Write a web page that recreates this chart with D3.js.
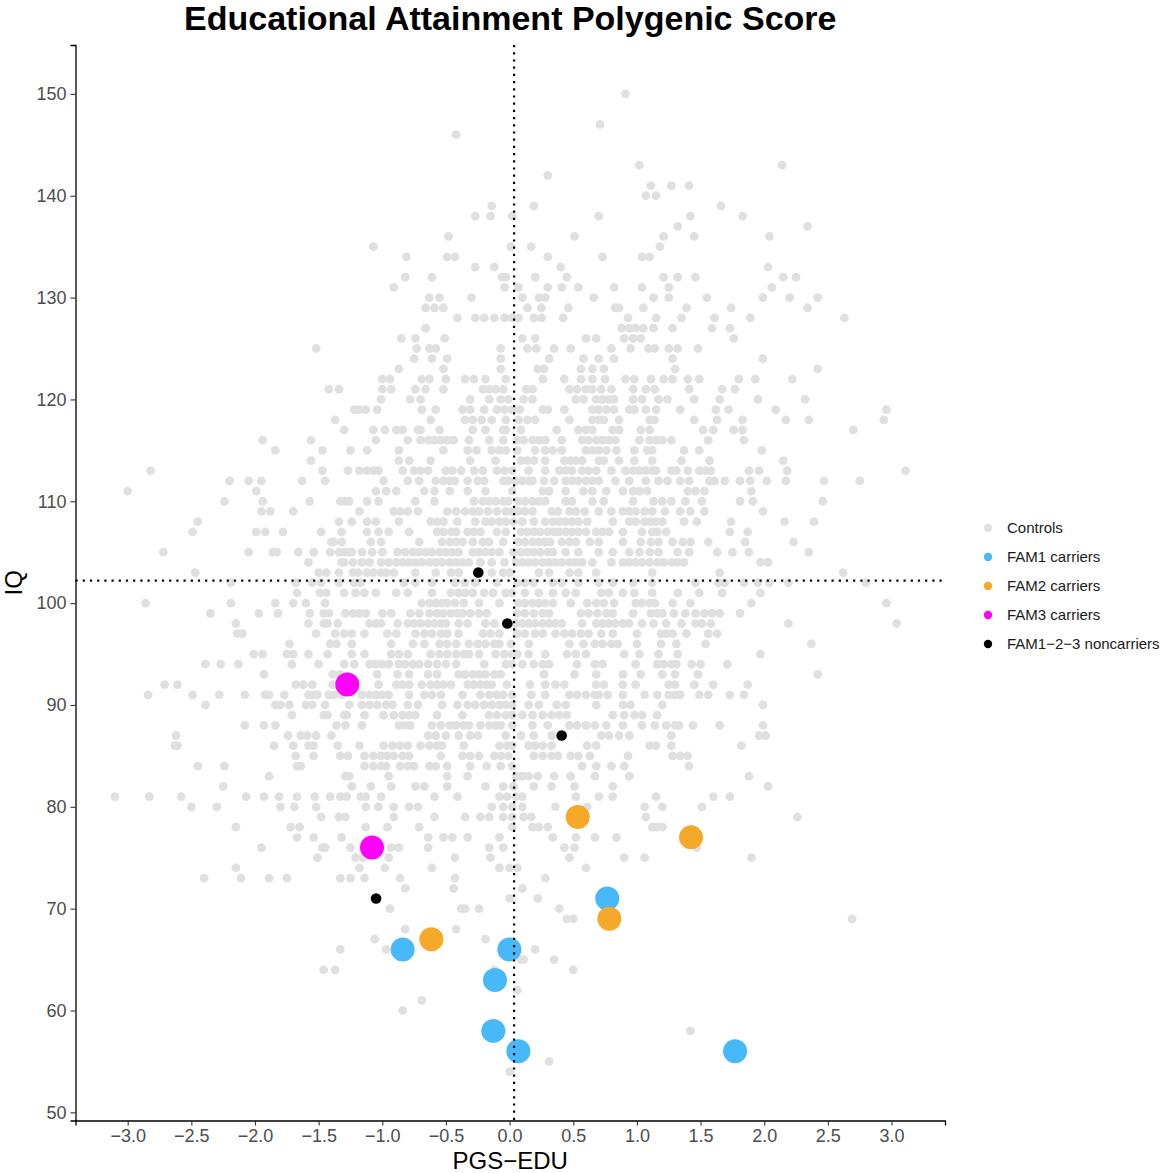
<!DOCTYPE html>
<html>
<head>
<meta charset="utf-8">
<script src="https://cdn.jsdelivr.net/npm/d3@7"></script>
<style>
  body { margin: 0; background: #ffffff; }
  svg text { font-family: "Liberation Sans", Arial, sans-serif; }
</style>
</head>
<body>
<svg id="chart" width="1161" height="1173"></svg>
<script>
// ---- Data ----------------------------------------------------------------
const chartTitle = "Educational Attainment Polygenic Score";
const xTitle = "PGS−EDU";
const yTitle = "IQ";
const xTicks = [-3.0, -2.5, -2.0, -1.5, -1.0, -0.5, 0.0, 0.5, 1.0, 1.5, 2.0, 2.5, 3.0];
const yTicks = [50, 60, 70, 80, 90, 100, 110, 120, 130, 140, 150];

const legendLabels = ["Controls", "FAM1 carriers", "FAM2 carriers", "FAM3 carriers", "FAM1−2−3 noncarriers"];
const legendColors = ["#e0e0e0", "#47b9f9", "#f6a928", "#ff00ff", "#000000"];

// reference lines: mean PGS and mean IQ of the controls
const meanPGS = 0.035;
const meanIQ = 102.2;

// family members
const fam1PGS = [0.767, -0.840, -0.002, -0.115, -0.128, 0.069, 1.771];
const fam1IQ  = [71, 66, 66, 63, 58, 56, 56];
const fam2PGS = [0.535, 1.425, 0.783, -0.615];
const fam2IQ  = [79, 77, 69, 67];
const fam3PGS = [-1.275, -1.081];
const fam3IQ  = [92, 76];
const nonPGS  = [-0.246, -0.018, 0.409, -1.049];
const nonIQ   = [103, 98, 87, 71];

// controls: one entry per IQ score, with the PGS of each control at that score
const controlRows = [
  [150, [0.91]],
  [147, [0.71]],
  [146, [-0.42]],
  [143, [1.02, 2.14]],
  [142, [0.30]],
  [141, [1.11, 1.27, 1.41]],
  [140, [1.07, 1.15]],
  [139, [-0.14, 0.19, 1.66]],
  [138, [-0.27, -0.15, 0.02, 0.70, 1.42, 1.83]],
  [137, [1.32, 2.34]],
  [136, [-0.48, 0.51, 1.21, 1.45, 2.04]],
  [135, [-1.07, 0.01, 0.17, 1.18]],
  [134, [-0.81, -0.49, -0.43, 0.30, 0.73, 1.04, 1.10]],
  [133, [-0.27, -0.12, 0.40, 2.03]],
  [132, [-0.82, -0.61, -0.06, -0.03, 0.20, 0.45, 1.21, 1.32, 1.46, 2.15, 2.25]],
  [131, [-0.91, -0.04, 0.07, 0.30, 0.41, 0.54, 0.82, 1.04, 1.25, 2.06]],
  [130, [-0.63, -0.55, -0.30, 0.10, 0.23, 0.28, 0.66, 1.13, 1.25, 1.55, 1.99, 2.20, 2.42]],
  [129, [-0.66, -0.59, -0.52, 0.14, 0.25, 0.46, 0.83, 0.86, 1.05, 1.39, 1.74, 2.34]],
  [128, [-0.41, -0.27, -0.20, -0.12, -0.04, 0.02, 0.07, 0.19, 0.25, 0.42, 0.93, 1.15, 1.35, 1.61, 1.89, 2.63]],
  [127, [-0.66, 0.88, 0.94, 0.99, 1.05, 1.13, 1.28, 1.59, 1.73]],
  [126, [-0.85, -0.74, -0.51, 0.10, 0.20, 0.60, 0.68, 0.90, 0.97, 1.03, 1.76]],
  [125, [-1.52, -0.73, -0.63, -0.58, -0.07, 0.14, 0.21, 0.35, 0.48, 0.80, 0.95, 1.09, 1.14, 1.25, 1.32, 1.48]],
  [124, [-0.75, -0.61, -0.49, -0.07, 0.31, 0.58, 0.70, 0.82, 1.28, 1.99]],
  [123, [-0.87, -0.52, -0.07, 0.22, 0.27, 0.56, 0.65, 0.74, 1.30, 2.42]],
  [122, [-1.00, -0.94, -0.69, -0.63, -0.50, -0.35, -0.28, -0.19, -0.03, 0.26, 0.43, 0.56, 0.65, 0.75, 0.91, 0.98, 1.11, 1.21, 1.28, 1.40, 1.49, 1.80, 1.93, 2.22]],
  [121, [-1.42, -1.34, -1.00, -0.93, -0.74, -0.66, -0.52, -0.21, -0.16, -0.11, -0.05, 0.13, 0.18, 0.47, 0.53, 0.60, 0.65, 0.72, 0.80, 0.97, 1.07, 1.14, 1.41, 1.67, 1.77]],
  [120, [-1.01, -0.78, -0.70, -0.31, -0.16, -0.07, -0.01, 0.11, 0.18, 0.52, 0.58, 0.68, 0.73, 0.78, 0.82, 0.97, 1.04, 1.17, 1.24, 1.45, 1.65, 1.95, 2.32]],
  [119, [-1.22, -1.18, -1.13, -1.04, -0.69, -0.58, -0.37, -0.31, -0.20, -0.10, -0.04, 0.02, 0.08, 0.26, 0.30, 0.43, 0.65, 0.70, 0.76, 0.82, 0.94, 0.98, 1.07, 1.15, 1.34, 1.62, 1.72, 2.09, 2.96]],
  [118, [-1.37, -0.62, -0.35, -0.29, -0.22, -0.14, -0.03, 0.07, 0.14, 0.20, 0.47, 0.65, 0.70, 0.74, 0.86, 1.10, 1.14, 1.45, 1.63, 1.83, 2.17, 2.35, 2.94]],
  [117, [-1.30, -1.07, -0.98, -0.89, -0.84, -0.72, -0.70, -0.55, -0.29, -0.19, -0.05, -0.03, 0.09, 0.37, 0.54, 0.60, 0.65, 0.81, 0.86, 1.03, 1.10, 1.52, 1.60, 1.76, 1.83, 2.70]],
  [116, [-1.94, -1.56, -1.05, -0.80, -0.70, -0.64, -0.59, -0.54, -0.49, -0.44, -0.32, -0.16, -0.05, 0.06, 0.11, 0.18, 0.23, 0.28, 0.41, 0.57, 0.62, 0.68, 0.73, 0.78, 0.83, 1.02, 1.10, 1.15, 1.20, 1.27, 1.56, 1.84]],
  [115, [-1.84, -1.47, -1.25, -1.12, -0.87, -0.52, -0.33, -0.26, -0.14, -0.08, -0.03, 0.06, 0.20, 0.28, 0.34, 0.41, 0.60, 0.65, 0.70, 0.76, 0.84, 0.98, 1.08, 1.12, 1.37, 1.49, 1.98]],
  [114, [-1.56, -0.87, -0.79, -0.62, -0.31, -0.11, 0.09, 0.14, 0.19, 0.28, 0.43, 0.48, 0.52, 0.57, 0.70, 0.74, 0.86, 0.98, 1.12, 1.35, 1.57, 2.15]],
  [113, [-2.82, -1.47, -1.27, -1.18, -1.12, -1.07, -1.03, -0.84, -0.75, -0.70, -0.64, -0.50, -0.45, -0.38, -0.28, -0.21, -0.10, -0.04, 0.02, 0.15, 0.28, 0.39, 0.44, 0.49, 0.57, 0.62, 0.68, 0.80, 0.91, 0.97, 1.02, 1.07, 1.12, 1.15, 1.27, 1.31, 1.40, 1.49, 1.54, 1.58, 1.88, 1.96, 2.18, 3.11]],
  [112, [-2.20, -2.05, -1.95, -1.63, -1.45, -0.99, -0.80, -0.71, -0.58, -0.52, -0.47, -0.43, -0.33, -0.25, -0.20, -0.05, -0.01, 0.05, 0.10, 0.15, 0.18, 0.27, 0.35, 0.44, 0.49, 0.54, 0.60, 0.65, 0.70, 0.83, 0.94, 1.07, 1.17, 1.24, 1.34, 1.41, 1.57, 1.61, 1.69, 1.81, 1.89, 2.02, 2.17, 2.47, 2.75]],
  [111, [-3.00, -1.99, -1.05, -0.97, -0.89, -0.67, -0.59, -0.47, -0.33, -0.19, 0.02, 0.26, 0.31, 0.44, 0.58, 0.65, 0.76, 0.89, 0.97, 1.02, 1.08, 1.40, 1.46, 1.53, 1.90]],
  [110, [-2.24, -1.94, -1.57, -1.33, -1.29, -1.26, -1.12, -1.03, -0.74, -0.59, -0.28, -0.21, -0.16, -0.11, -0.05, -0.01, 0.07, 0.12, 0.18, 0.23, 0.28, 0.44, 0.49, 0.65, 0.74, 0.97, 1.13, 1.20, 1.27, 1.38, 1.51, 1.81, 1.91, 2.46]],
  [109, [-1.95, -1.88, -1.70, -1.18, -0.91, -0.86, -0.80, -0.72, -0.49, -0.42, -0.35, -0.29, -0.24, -0.17, -0.10, -0.03, 0.02, 0.07, 0.12, 0.18, 0.33, 0.38, 0.47, 0.52, 0.59, 0.70, 0.80, 0.89, 0.94, 0.99, 1.06, 1.12, 1.22, 1.34, 1.42, 1.53, 1.99]],
  [108, [-2.45, -1.34, -1.24, -1.12, -1.05, -0.87, -0.62, -0.57, -0.52, -0.41, -0.27, -0.19, -0.14, -0.08, -0.03, 0.03, 0.10, 0.19, 0.28, 0.34, 0.39, 0.44, 0.49, 0.54, 0.61, 0.81, 0.94, 0.99, 1.06, 1.11, 1.15, 1.20, 1.37, 1.47, 1.74, 2.16, 2.39]],
  [107, [-2.49, -1.99, -1.92, -1.78, -1.48, -1.32, -1.12, -1.03, -0.95, -0.79, -0.57, -0.52, -0.46, -0.42, -0.33, -0.28, -0.23, -0.10, -0.03, 0.09, 0.14, 0.19, 0.24, 0.30, 0.35, 0.39, 0.44, 0.49, 0.54, 0.60, 0.68, 0.73, 0.78, 0.89, 1.04, 1.12, 1.16, 1.23, 1.73, 1.87]],
  [106, [-1.40, -1.38, -1.32, -1.09, -1.01, -0.71, -0.53, -0.47, -0.42, -0.37, -0.29, -0.21, -0.16, -0.05, 0.07, 0.12, 0.18, 0.23, 0.28, 0.32, 0.41, 0.47, 0.52, 0.63, 0.70, 0.89, 1.03, 1.11, 1.17, 1.28, 1.36, 1.42, 1.56, 1.85, 2.23]],
  [105, [-2.72, -2.05, -1.86, -1.83, -1.66, -1.54, -1.41, -1.34, -1.30, -1.27, -1.24, -1.16, -1.08, -1.00, -0.88, -0.82, -0.76, -0.71, -0.66, -0.61, -0.55, -0.50, -0.45, -0.40, -0.29, -0.24, -0.19, -0.14, -0.08, 0.03, 0.09, 0.14, 0.19, 0.24, 0.30, 0.34, 0.44, 0.54, 0.70, 0.81, 0.94, 1.02, 1.10, 1.17, 1.32, 1.41, 1.63, 1.75, 1.88, 2.35]],
  [104, [-1.58, -1.32, -1.30, -1.23, -1.16, -1.10, -1.01, -0.95, -0.89, -0.84, -0.79, -0.74, -0.69, -0.63, -0.58, -0.53, -0.47, -0.42, -0.37, -0.32, -0.23, -0.14, -0.04, 0.05, 0.10, 0.15, 0.20, 0.26, 0.31, 0.36, 0.41, 0.47, 0.52, 0.57, 0.65, 0.80, 0.89, 0.94, 0.99, 1.04, 1.10, 1.16, 1.21, 1.27, 1.32, 1.37, 1.97, 2.03]],
  [103, [-2.47, -1.50, -1.44, -1.34, -1.23, -1.19, -1.12, -1.07, -1.01, -0.97, -0.91, -0.74, -0.58, -0.46, -0.40, -0.14, -0.05, 0.00, 0.23, 0.31, 0.47, 0.54, 0.68, 1.12, 1.65, 2.62]],
  [102, [-2.19, -1.68, -1.55, -1.48, -1.34, -1.22, -1.17, -0.83, -0.74, -0.61, -0.43, -0.35, -0.27, -0.10, 0.06, 0.12, 0.19, 0.34, 0.41, 0.54, 0.70, 0.81, 0.97, 1.12, 1.46, 1.64, 1.69, 1.84, 1.95, 2.04, 2.19, 2.80]],
  [101, [-1.67, -1.49, -1.44, -1.30, -1.21, -1.14, -1.05, -0.89, -0.80, -0.61, -0.46, -0.40, -0.35, -0.29, -0.20, -0.13, -0.03, 0.02, 0.12, 0.23, 0.34, 0.44, 0.52, 0.72, 0.78, 0.89, 0.98, 1.12, 1.32, 1.49, 1.67, 1.97]],
  [100, [-2.86, -2.19, -1.84, -1.70, -1.60, -1.45, -0.69, -0.63, -0.58, -0.53, -0.49, -0.43, -0.36, -0.24, -0.08, 0.07, 0.12, 0.18, 0.23, 0.28, 0.34, 0.48, 0.61, 0.68, 0.74, 0.82, 0.99, 1.04, 1.10, 1.14, 1.28, 1.42, 1.90, 2.96]],
  [99, [-2.35, -1.97, -1.82, -1.57, -1.46, -1.42, -1.29, -1.23, -1.18, -1.13, -1.00, -0.93, -0.78, -0.71, -0.63, -0.57, -0.52, -0.46, -0.41, -0.37, -0.31, -0.24, -0.18, 0.06, 0.12, 0.19, 0.26, 0.31, 0.56, 0.62, 0.69, 0.76, 0.81, 0.97, 1.11, 1.16, 1.20, 1.29, 1.38, 1.46, 1.53, 1.59, 1.65, 1.81]],
  [98, [-2.15, -1.58, -1.46, -1.43, -1.35, -1.10, -1.05, -1.01, -0.88, -0.80, -0.75, -0.70, -0.64, -0.59, -0.54, -0.50, -0.40, -0.33, -0.19, -0.12, 0.05, 0.10, 0.15, 0.20, 0.26, 0.31, 0.36, 0.41, 0.57, 0.68, 0.73, 0.78, 0.83, 0.89, 0.94, 1.04, 1.13, 1.23, 1.35, 1.46, 1.51, 1.58, 2.19, 3.04]],
  [97, [-2.14, -2.10, -1.52, -1.37, -1.30, -1.24, -1.14, -0.96, -0.89, -0.74, -0.67, -0.61, -0.54, -0.49, -0.40, -0.21, -0.15, -0.08, 0.06, 0.12, 0.20, 0.26, 0.36, 0.43, 0.49, 0.56, 0.62, 0.72, 0.81, 1.00, 1.19, 1.23, 1.28, 1.39, 1.56, 1.63]],
  [96, [-1.73, -1.41, -1.36, -1.24, -0.93, -0.76, -0.67, -0.55, -0.49, -0.42, -0.32, -0.25, -0.19, -0.12, -0.08, 0.01, 0.15, 0.47, 0.58, 0.67, 0.73, 0.80, 0.85, 1.00, 1.19, 1.31, 1.54, 2.37]],
  [95, [-2.01, -1.94, -1.75, -1.70, -1.58, -1.43, -1.24, -1.14, -0.93, -0.87, -0.80, -0.62, -0.55, -0.49, -0.42, -0.36, -0.32, -0.24, -0.11, -0.04, 0.02, 0.06, 0.15, 0.28, 0.45, 0.52, 0.60, 0.90, 1.02, 1.17, 1.32, 1.97]],
  [94, [-2.39, -2.27, -2.13, -1.71, -1.50, -1.30, -1.22, -1.10, -1.05, -1.00, -0.95, -0.87, -0.82, -0.76, -0.71, -0.64, -0.57, -0.50, -0.42, -0.20, -0.03, 0.02, 0.10, 0.19, 0.26, 0.31, 0.53, 0.67, 0.73, 0.99, 1.16, 1.21, 1.27, 1.31, 1.43, 1.50, 1.71]],
  [93, [-1.93, -1.39, -1.33, -1.04, -0.88, -0.79, -0.64, -0.57, -0.40, -0.35, -0.29, -0.24, -0.19, -0.12, -0.07, 0.27, 0.51, 0.68, 0.89, 1.03, 1.20, 1.30, 1.48, 2.42]],
  [92, [-2.71, -2.61, -1.68, -1.62, -1.55, -1.39, -1.03, -0.89, -0.84, -0.79, -0.69, -0.62, -0.57, -0.52, -0.46, -0.33, -0.28, -0.23, -0.18, -0.14, -0.02, 0.16, 0.28, 0.36, 0.43, 0.68, 0.74, 0.89, 0.99, 1.25, 1.30, 1.45, 1.60, 1.87]],
  [91, [-2.84, -2.49, -2.28, -2.08, -1.92, -1.89, -1.77, -1.58, -1.55, -1.51, -1.42, -1.38, -1.32, -1.16, -1.10, -1.05, -1.00, -0.95, -0.79, -0.67, -0.61, -0.54, -0.37, -0.23, -0.16, -0.10, -0.05, 0.02, 0.17, 0.28, 0.47, 0.53, 0.60, 0.67, 0.70, 0.77, 0.89, 1.06, 1.16, 1.25, 1.30, 1.34, 1.49, 1.56, 1.73, 1.84]],
  [90, [-2.39, -1.84, -1.80, -1.73, -1.60, -1.55, -1.45, -1.26, -1.16, -1.10, -1.04, -0.97, -0.92, -0.80, -0.72, -0.53, -0.41, -0.33, -0.27, -0.20, -0.14, -0.08, -0.03, 0.02, 0.15, 0.23, 0.37, 0.44, 0.68, 0.89, 0.95, 1.20, 1.99]],
  [89, [-1.71, -1.46, -1.43, -1.30, -1.28, -1.14, -0.99, -0.91, -0.84, -0.79, -0.74, -0.57, -0.37, -0.16, -0.10, -0.03, 0.02, 0.10, 0.18, 0.26, 0.33, 0.39, 0.45, 0.81, 0.90, 0.98, 1.04, 1.16]],
  [88, [-2.08, -1.93, -1.84, -1.36, -1.29, -1.16, -0.87, -0.82, -0.78, -0.61, -0.54, -0.47, -0.42, -0.36, -0.32, -0.23, -0.16, -0.11, -0.07, 0.02, 0.18, 0.30, 0.47, 0.53, 0.60, 0.67, 0.76, 0.89, 1.04, 1.14, 1.23, 1.30, 1.33, 1.44, 1.65, 1.99]],
  [87, [-2.62, -1.74, -1.64, -1.59, -1.52, -1.40, -0.64, -0.58, -0.50, -0.40, -0.31, -0.25, -0.03, 0.09, 0.19, 0.33, 0.72, 0.78, 0.86, 0.94, 1.27, 1.96, 2.01]],
  [86, [-2.63, -2.61, -1.85, -1.70, -1.58, -1.54, -1.35, -1.18, -0.99, -0.92, -0.86, -0.80, -0.70, -0.63, -0.57, -0.53, -0.36, -0.08, -0.02, 0.02, 0.15, 0.20, 0.26, 0.33, 0.61, 0.68, 1.10, 1.15, 1.27, 1.82]],
  [85, [-1.68, -1.54, -1.33, -1.27, -1.14, -1.07, -1.01, -0.96, -0.91, -0.84, -0.79, -0.54, -0.37, -0.31, -0.24, -0.12, -0.07, -0.01, 0.19, 0.26, 0.33, 0.38, 0.48, 0.54, 0.63, 0.93, 1.28, 1.34, 1.40]],
  [84, [-2.45, -2.24, -1.67, -1.64, -1.14, -1.07, -1.01, -0.97, -0.86, -0.80, -0.75, -0.63, -0.58, -0.49, -0.31, -0.18, -0.07, 0.02, 0.57, 0.68, 0.80, 0.90, 1.41]],
  [83, [-1.89, -1.29, -1.26, -0.95, -0.49, -0.33, 0.05, 0.10, 0.15, 0.22, 0.35, 0.48, 0.67, 0.94, 1.88]],
  [82, [-2.25, -1.24, -1.09, -0.93, -0.74, -0.67, -0.49, -0.19, -0.05, 0.03, 0.19, 0.33, 0.51, 0.81, 2.03]],
  [81, [-3.10, -2.83, -2.58, -2.07, -1.93, -1.81, -1.67, -1.53, -1.41, -1.33, -1.28, -1.17, -1.13, -1.01, -0.59, -0.41, -0.08, -0.02, 0.05, 0.10, 0.52, 0.70, 0.81, 1.15, 1.60, 1.73]],
  [80, [-2.50, -2.30, -1.80, -1.69, -1.52, -1.13, -1.03, -0.91, -0.79, -0.72, -0.14, -0.05, 0.02, 0.10, 0.36, 0.61, 1.06, 1.20, 1.51]],
  [79, [-1.48, -1.34, -1.29, -0.91, -0.59, -0.35, -0.23, -0.16, -0.05, 0.02, 0.11, 0.17, 1.07, 2.26]],
  [78, [-2.15, -1.72, -1.65, -1.13, -0.96, -0.71, 0.02, 0.18, 0.23, 0.30, 1.12, 1.16, 1.20]],
  [77, [-1.67, -1.54, -1.32, -0.64, -0.52, -0.45, -0.33, -0.08, 0.34, 0.52, 0.67, 0.84]],
  [76, [-1.95, -1.47, -1.45, -1.25, -0.93, -0.87, -0.64, -0.16, -0.05, 0.43, 0.51, 1.47]],
  [75, [-1.51, -1.21, -1.15, -0.95, -0.43, -0.15, 0.47, 0.90, 1.06, 1.90]],
  [74, [-2.15, -1.18, -0.98, -0.61, -0.08, 0.00, 0.06, 0.60]],
  [73, [-2.40, -2.11, -1.89, -1.75, -1.33, -1.25, -1.14, -0.86, -0.43, 0.28]],
  [72, [-0.82, -0.44, 0.10]],
  [71, [0.00, 0.22]],
  [70, [-0.94, -0.38, -0.35, -0.24, 0.39]],
  [69, [0.45, 0.50, 2.69]],
  [68, [-0.82, -0.42]],
  [67, [-1.06, -0.19]],
  [66, [-1.33, -0.97, 0.20]],
  [65, [0.09, 0.11, 0.35]],
  [64, [-1.46, -1.37, -0.12, 0.50]],
  [62, [0.06]],
  [61, [-0.69]],
  [60, [-0.84]],
  [58, [1.42]],
  [55, [0.31]],
  [54, [0.00]]
];

// ---- Layout --------------------------------------------------------------
const svg = d3.select("#chart");
const panel = { left: 75.5, right: 945, top: 45, bottom: 1120.5 };

const x = d3.scaleLinear().domain([-3.41, 3.42]).range([panel.left, panel.right]);
const y = d3.scaleLinear().domain([49.2, 154.8]).range([panel.bottom, panel.top]);

const controls = controlRows.flatMap(([iq, xs]) => xs.map(p => ({ pgs: p, iq })));
const zipGroup = (pgs, iq) => pgs.map((p, i) => ({ pgs: p, iq: iq[i] }));

const plot = svg.append("g");

// controls
plot.append("g").selectAll("circle")
  .data(controls).join("circle")
  .attr("cx", d => x(d.pgs)).attr("cy", d => y(d.iq))
  .attr("r", 4.4).attr("fill", legendColors[0]);

// carriers of each family
[[fam1PGS, fam1IQ, 1], [fam2PGS, fam2IQ, 2], [fam3PGS, fam3IQ, 3]].forEach(([p, q, k]) => {
  plot.append("g").selectAll("circle")
    .data(zipGroup(p, q)).join("circle")
    .attr("cx", d => x(d.pgs)).attr("cy", d => y(d.iq))
    .attr("r", 12).attr("fill", legendColors[k]);
});

// non-carrier relatives
plot.append("g").selectAll("circle")
  .data(zipGroup(nonPGS, nonIQ)).join("circle")
  .attr("cx", d => x(d.pgs)).attr("cy", d => y(d.iq))
  .attr("r", 5.3).attr("fill", legendColors[4]);

// dotted reference lines at the control means
const dotted = { stroke: "#000", "stroke-width": 2.2, "stroke-dasharray": "2.2 5" };
const vline = plot.append("line")
  .attr("x1", x(meanPGS)).attr("x2", x(meanPGS))
  .attr("y1", panel.top).attr("y2", panel.bottom);
const hline = plot.append("line")
  .attr("x1", panel.left).attr("x2", panel.right)
  .attr("y1", y(meanIQ)).attr("y2", y(meanIQ));
[vline, hline].forEach(l => Object.entries(dotted).forEach(([k, v]) => l.attr(k, v)));

// ---- Axes ----------------------------------------------------------------
const fmtX = d3.format(".1f");
const xAxis = svg.append("g")
  .attr("transform", `translate(0,${panel.bottom})`)
  .call(d3.axisBottom(x).tickValues(xTicks).tickFormat(fmtX).tickSize(5).tickPadding(4));
const yAxis = svg.append("g")
  .attr("transform", `translate(${panel.left},0)`)
  .call(d3.axisLeft(y).tickValues(yTicks).tickSize(5).tickPadding(4));

[xAxis, yAxis].forEach(ax => {
  ax.select(".domain").attr("stroke", "#000").attr("stroke-width", 1.3);
  ax.selectAll(".tick line").attr("stroke", "#333").attr("stroke-width", 1.1);
  ax.selectAll(".tick text")
    .attr("fill", "#4d4d4d")
    .style("font-size", "18px")
    .style("font-family", "'Liberation Sans', Arial, sans-serif");
});

// axis titles
svg.append("text")
  .attr("x", (panel.left + panel.right) / 2).attr("y", 1169)
  .attr("text-anchor", "middle")
  .style("font-size", "24px").attr("fill", "#000")
  .text(xTitle);

svg.append("text")
  .attr("transform", `translate(22,${(panel.top + panel.bottom) / 2}) rotate(-90)`)
  .attr("text-anchor", "middle")
  .style("font-size", "24px").attr("fill", "#000")
  .text(yTitle);

// title
svg.append("text")
  .attr("x", (panel.left + panel.right) / 2).attr("y", 30)
  .attr("text-anchor", "middle")
  .style("font-size", "34px").style("font-weight", "bold").attr("fill", "#000")
  .text(chartTitle);

// ---- Legend --------------------------------------------------------------
const legend = svg.append("g").attr("transform", "translate(988,528)");
const item = legend.selectAll("g").data(legendLabels).join("g")
  .attr("transform", (d, i) => `translate(0,${i * 29})`);
item.append("circle").attr("r", 4.2).attr("fill", (d, i) => legendColors[i]);
item.append("text")
  .attr("x", 19).attr("dy", "0.35em")
  .style("font-size", "15px").attr("fill", "#1a1a1a")
  .text(d => d);
</script>
</body>
</html>
